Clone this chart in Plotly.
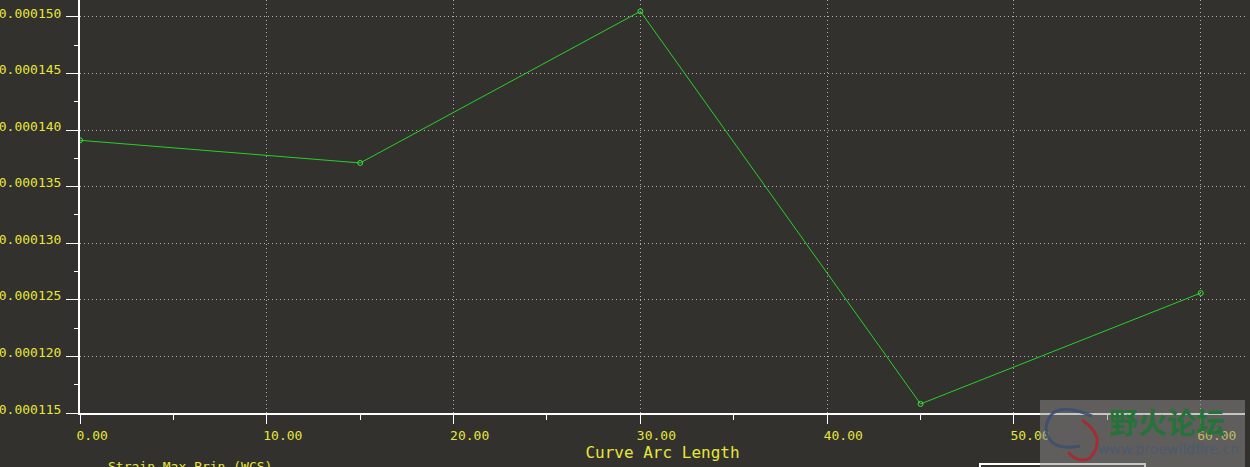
import plotly.graph_objects as go

# data
arc_length = [0, 15, 30, 45, 60]
strain = [0.0001391, 0.0001371, 0.0001505, 0.0001158, 0.0001256]

x_ticks = [0, 10, 20, 30, 40, 50, 60]
y_ticks = [0.000115, 0.000120, 0.000125, 0.000130, 0.000135, 0.000140, 0.000145, 0.000150]

BG = "#32312d"
YEL = "#e6e63c"
GRID = "#b0b0b0"
MONO = "DejaVu Sans Mono"


def px(x):
    return (x - 80) / 1165


def py(y):
    return (413 - y) / 413


fig = go.Figure()
fig.add_trace(go.Scatter(
    x=arc_length, y=strain, mode="lines+markers",
    line=dict(color="#28d028", width=1),
    marker=dict(symbol="circle-open", size=5, color="#3ce03c", line=dict(width=1)),
    showlegend=False,
))

fig.update_xaxes(
    range=[0, 62.37], tickvals=x_ticks, tickformat=".2f",
    ticks="outside", ticklen=9, tickcolor="white", tickwidth=1,
    minor=dict(tickvals=[5, 15, 25, 35, 45, 55], ticks="outside", ticklen=5, tickcolor="white", showgrid=False),
    showline=True, linecolor="white", linewidth=2,
    showgrid=True, gridcolor=GRID, griddash="1px,3px", gridwidth=1,
    zeroline=False, ticklabelposition="outside right", automargin=False,
    ticklabelshift=-5, ticklabelstandoff=9,
    tickfont=dict(family=MONO, size=13, color=YEL),
    title=dict(text="Curve Arc Length", font=dict(family=MONO, size=16, color=YEL), standoff=2),
)
fig.update_yaxes(
    range=[0.000115, 0.0001515], tickvals=y_ticks, tickformat=".6f",
    ticks="outside", ticklen=12, tickcolor="white", tickwidth=1,
    minor=dict(tickvals=[0.0001175, 0.0001225, 0.0001275, 0.0001325, 0.0001375, 0.0001425, 0.0001475],
               ticks="outside", ticklen=4, tickcolor="white", showgrid=False),
    showline=True, linecolor="white", linewidth=2,
    showgrid=True, gridcolor=GRID, griddash="1px,3px", gridwidth=1,
    zeroline=False, automargin=False,
    ticklabelshift=-4, ticklabelstandoff=2,
    tickfont=dict(family=MONO, size=13, color=YEL),
)

# lower-left series label, cut by the bottom edge
fig.add_annotation(
    x=px(106), y=py(457), xref="paper", yref="paper",
    xanchor="left", yanchor="top", showarrow=False,
    text="Strain Max Prin (WCS)", font=dict(family=MONO, size=13, color=YEL),
)

# legend box edge at bottom
fig.add_shape(type="rect", xref="paper", yref="paper",
              x0=px(980), x1=px(1145), y0=py(480), y1=py(464),
              line=dict(color="white", width=2), fillcolor=BG, layer="above")

# watermark
fig.add_shape(type="rect", xref="paper", yref="paper",
              x0=px(1040), x1=px(1245), y0=py(467), y1=py(400),
              line=dict(width=0), fillcolor="rgba(140,140,140,0.5)", layer="above")
fig.add_shape(type="path", xref="paper", yref="paper",
              path=f"M {px(1092)},{py(416)} Q {px(1050)},{py(398)} {px(1046)},{py(428)} Q {px(1048)},{py(452)} {px(1080)},{py(446)}",
              line=dict(color="rgba(60,80,110,0.9)", width=3), layer="above")
fig.add_shape(type="path", xref="paper", yref="paper",
              path=f"M {px(1082)},{py(420)} Q {px(1108)},{py(438)} {px(1090)},{py(458)} Q {px(1078)},{py(464)} {px(1068)},{py(452)}",
              line=dict(color="rgba(170,40,50,0.9)", width=3), layer="above")
fig.add_annotation(
    x=px(1167), y=py(421), xref="paper", yref="paper",
    xanchor="center", yanchor="middle",
    showarrow=False, text="<b>野火论坛</b>",
    font=dict(family="Noto Sans CJK SC", size=29, color="#26733a"),
)
fig.add_annotation(
    x=px(1168), y=py(449), xref="paper", yref="paper",
    xanchor="center", yanchor="middle",
    showarrow=False, text="www.proewildfire.cn",
    font=dict(family="DejaVu Sans", size=14, color="rgba(75,90,110,0.95)"),
)

fig.update_layout(
    width=1250, height=467,
    margin=dict(l=80, r=5, t=0, b=54),
    paper_bgcolor=BG, plot_bgcolor=BG,
)

fig.write_html("out.html", config={"displayModeBar": False},
               post_script="document.body.style.margin='0';")
